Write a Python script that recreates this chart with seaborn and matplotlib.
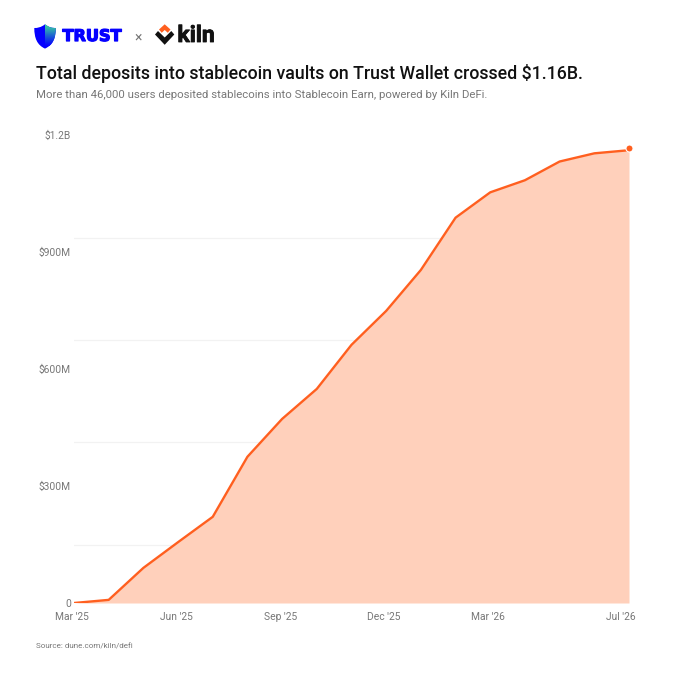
import numpy as np
import pandas as pd
import seaborn as sns
import matplotlib.pyplot as plt
import matplotlib.patheffects as pe
from matplotlib.patches import PathPatch, Polygon
from matplotlib.path import Path
import matplotlib.transforms as mtrans

# monthly, Mar '25 .. Jul '26
months = ["Mar '25", "Apr '25", "May '25", "Jun '25", "Jul '25", "Aug '25", "Sep '25", "Oct '25", "Nov '25",
          "Dec '25", "Jan '26", "Feb '26", "Mar '26", "Apr '26", "May '26", "Jun '26", "Jul '26"]
deposits = [0, 8, 90, 156, 221, 375, 472, 549, 662, 749, 854, 988, 1053, 1084, 1132, 1153, 1161]
end_dot_value = 1167

x_tick_labels = ["Mar '25", "Jun '25", "Sep '25", "Dec '25", "Mar '26", "Jul '26"]
y_ticks = [0, 300, 600, 900, 1200]
y_tick_labels = ["0", "$300M", "$600M", "$900M", "$1.2B"]
grid_values = [149, 412, 674, 936, 1200]

ORANGE = "#FF5F1F"
FILL = "#FFD0BB"
GREY = "#777777"
BLUE = "#0500FF"

sns.set_theme(style="white")
plt.rcParams["font.family"] = ["Roboto", "DejaVu Sans"]

df = pd.DataFrame({"month": months, "deposits": deposits})
df["pos"] = np.arange(len(df))

fig = plt.figure(figsize=(6.8, 6.8), dpi=100, facecolor="white")
ax = fig.add_axes([74 / 680, 77 / 680, 555 / 680, 468 / 680])

ax.fill_between(df["pos"], df["deposits"], 0, color=FILL, lw=0, zorder=2)
sns.lineplot(data=df, x="pos", y="deposits", color=ORANGE, linewidth=1.7, ax=ax, zorder=3)
ax.scatter(df["pos"].iloc[-1], end_dot_value, s=26, color=ORANGE, edgecolor="white", linewidth=0.8,
           clip_on=False, zorder=4)

ax.set_xlim(0, len(df) - 1)
ax.set_ylim(0, 1200)
ax.set_xlabel("")
ax.set_ylabel("")
sns.despine(ax=ax, left=True, bottom=True)

# gridlines do not line up with the labels in the original
ax.set_yticks(grid_values, minor=True)
ax.grid(False)
ax.grid(which="minor", axis="y", color="#F2F2F2", linewidth=0.9, zorder=0)
ax.set_axisbelow(True)
ax.tick_params(which="both", length=0)

ax.set_yticks(y_ticks)
ax.set_yticklabels(y_tick_labels, fontsize=7.4, color=GREY)
ax.tick_params(axis="y", pad=2.2)

ax.set_xticks([months.index(m) for m in x_tick_labels])
ax.set_xticklabels(x_tick_labels, fontsize=7.4, color=GREY)
ax.tick_params(axis="x", pad=6.5)
for lab in ax.get_xticklabels():
    shift = -8 if lab.get_text() == "Jul '26" else -2
    lab.set_transform(lab.get_transform() + mtrans.Affine2D().translate(shift, 0))

# overlay in pixel coords for header, logos and source
top = fig.add_axes([0, 0, 1, 1], zorder=5)
top.set_xlim(0, 680)
top.set_ylim(680, 0)
top.axis("off")
top.patch.set_alpha(0)

top.text(36, 73.5, "Total deposits into stablecoin vaults on Trust Wallet crossed $1.16B.",
         fontsize=12.8, fontweight="medium", color="#111111", va="center", ha="left")
top.text(36, 95, "More than 46,000 users deposited stablecoins into Stablecoin Earn, powered by Kiln DeFi.",
         fontsize=8.17, color=GREY, va="center", ha="left")
top.text(36, 646, "Source: dune.com/kiln/defi", fontsize=5.8, color=GREY, va="center", ha="left")

# Trust shield
shield = Path(
    [(45, 24.3), (49, 27.5), (52.5, 28), (55.8, 28), (55.8, 38), (53, 45), (45, 48.6),
     (37, 45), (34.3, 38), (34.3, 28), (37.5, 28), (41, 27.5), (45, 24.3), (45, 24.3)],
    [Path.MOVETO, Path.CURVE4, Path.CURVE4, Path.CURVE4, Path.CURVE4, Path.CURVE4, Path.CURVE4,
     Path.CURVE4, Path.CURVE4, Path.CURVE4, Path.CURVE4, Path.CURVE4, Path.CURVE4, Path.CLOSEPOLY],
)
shield_patch = PathPatch(shield, facecolor=BLUE, edgecolor="none")
top.add_patch(shield_patch)
# green/teal wash on right half of the shield
blue_rgb = np.array([5, 0, 255]) / 255
green_rgb = np.array([60, 225, 150]) / 255
grad = np.linspace(1, 0, 40)[:, None, None] ** 1.1
grad_img = grad * green_rgb + (1 - grad) * blue_rgb
im = top.imshow(grad_img, extent=(45, 56, 46, 24), aspect="auto", zorder=2)
im.set_clip_path(shield_patch)
top.set_xlim(0, 680)
top.set_ylim(680, 0)

top.text(62.5, 36.5, "TRUST", fontsize=11.6, fontweight="bold", color=BLUE, va="center", ha="left",
         family=["DejaVu Sans"], path_effects=[pe.withStroke(linewidth=0.9, foreground=BLUE)])
top.text(138, 37, "×", fontsize=10, color="#777777", va="center", ha="center")

# Kiln mark
top.add_patch(Polygon([(155, 34.5), (158, 31), (164.7, 37.5), (171.3, 31), (174.3, 34.5), (164.7, 44.8)],
                      closed=True, facecolor="#111111", edgecolor="none"))
top.add_patch(Polygon([(159, 29.5), (164.7, 24.3), (170.5, 29.5), (167.8, 32.8), (164.7, 30), (161.7, 32.8)],
                      closed=True, facecolor=ORANGE, edgecolor="none"))
top.text(177.5, 35.5, "kiln", fontsize=16.5, fontweight="bold", color="#111111", va="center", ha="left",
         path_effects=[pe.withStroke(linewidth=0.6, foreground="#111111")])

fig.savefig("out.png", dpi=100, facecolor="white")
